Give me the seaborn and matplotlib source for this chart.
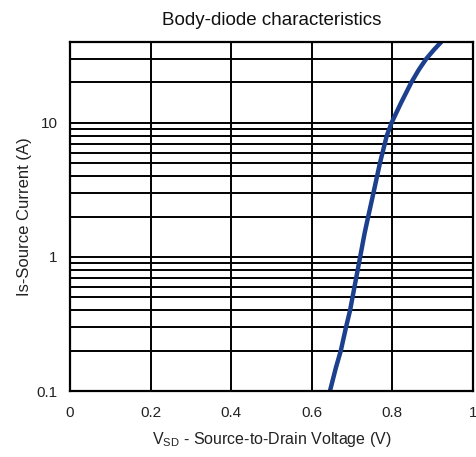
import numpy as np
import pandas as pd
import matplotlib
matplotlib.use("Agg")
import matplotlib.pyplot as plt
import seaborn as sns
from matplotlib.ticker import LogLocator, NullFormatter, FixedLocator

# Body-diode curve
current_a = [0.1, 0.15, 0.2, 0.3, 0.4, 0.6, 1.0, 1.5, 2.0, 3.0, 5.0, 8.0, 10.0, 14.0, 20.0, 25.0, 30.0, 35.0, 40.0]
vsd_v = [0.645, 0.660, 0.672, 0.685, 0.695, 0.706, 0.720, 0.731, 0.740, 0.753, 0.769, 0.786, 0.798,
         0.821, 0.847, 0.866, 0.884, 0.903, 0.921]

x_ticks = [0, 0.2, 0.4, 0.6, 0.8, 1.0]
x_tick_labels = ["0", "0.2", "0.4", "0.6", "0.8", "1"]
y_ticks = [0.1, 1, 10]
y_tick_labels = ["0.1", "1", "10"]

df = pd.DataFrame({"Vsd": vsd_v, "Is": current_a})

sns.set_style("white")
plt.rcParams["font.family"] = ["Liberation Sans", "DejaVu Sans"]
plt.rcParams["mathtext.default"] = "regular"

fig = plt.figure(figsize=(4.77, 4.57), dpi=100)
ax = fig.add_axes([0.1468, 0.1444, 0.8448, 0.7636])

sns.lineplot(data=df, x="Vsd", y="Is", color="#1c3f8e", linewidth=3.2, ax=ax, sort=False)

ax.set_yscale("log")
ax.set_xlim(0, 1)
ax.set_ylim(0.1, 40)

ax.set_xticks(x_ticks)
ax.set_xticklabels(x_tick_labels)
ax.yaxis.set_major_locator(FixedLocator(y_ticks))
ax.set_yticklabels(y_tick_labels)
ax.yaxis.set_minor_locator(LogLocator(base=10, subs=np.arange(2, 10)))
ax.yaxis.set_minor_formatter(NullFormatter())

ax.grid(True, which="both", axis="both", color="black", linewidth=1.4)
ax.set_axisbelow(True)
for s in ax.spines.values():
    s.set_color("black")
    s.set_linewidth(1.6)
ax.tick_params(axis="both", which="both", length=0, labelsize=11, colors="#222222")
ax.tick_params(axis="x", pad=11)
ax.tick_params(axis="y", pad=9)

ax.set_xlabel("V$_{SD}$ - Source-to-Drain Voltage (V)", fontsize=11.5, color="#222222", labelpad=7)
ax.set_ylabel("Is-Source Current (A)", fontsize=12, color="#222222", labelpad=3)
ax.set_title("Body-diode characteristics", fontsize=13.5, color="#111111", pad=12)

fig.savefig("out.png", dpi=100)
